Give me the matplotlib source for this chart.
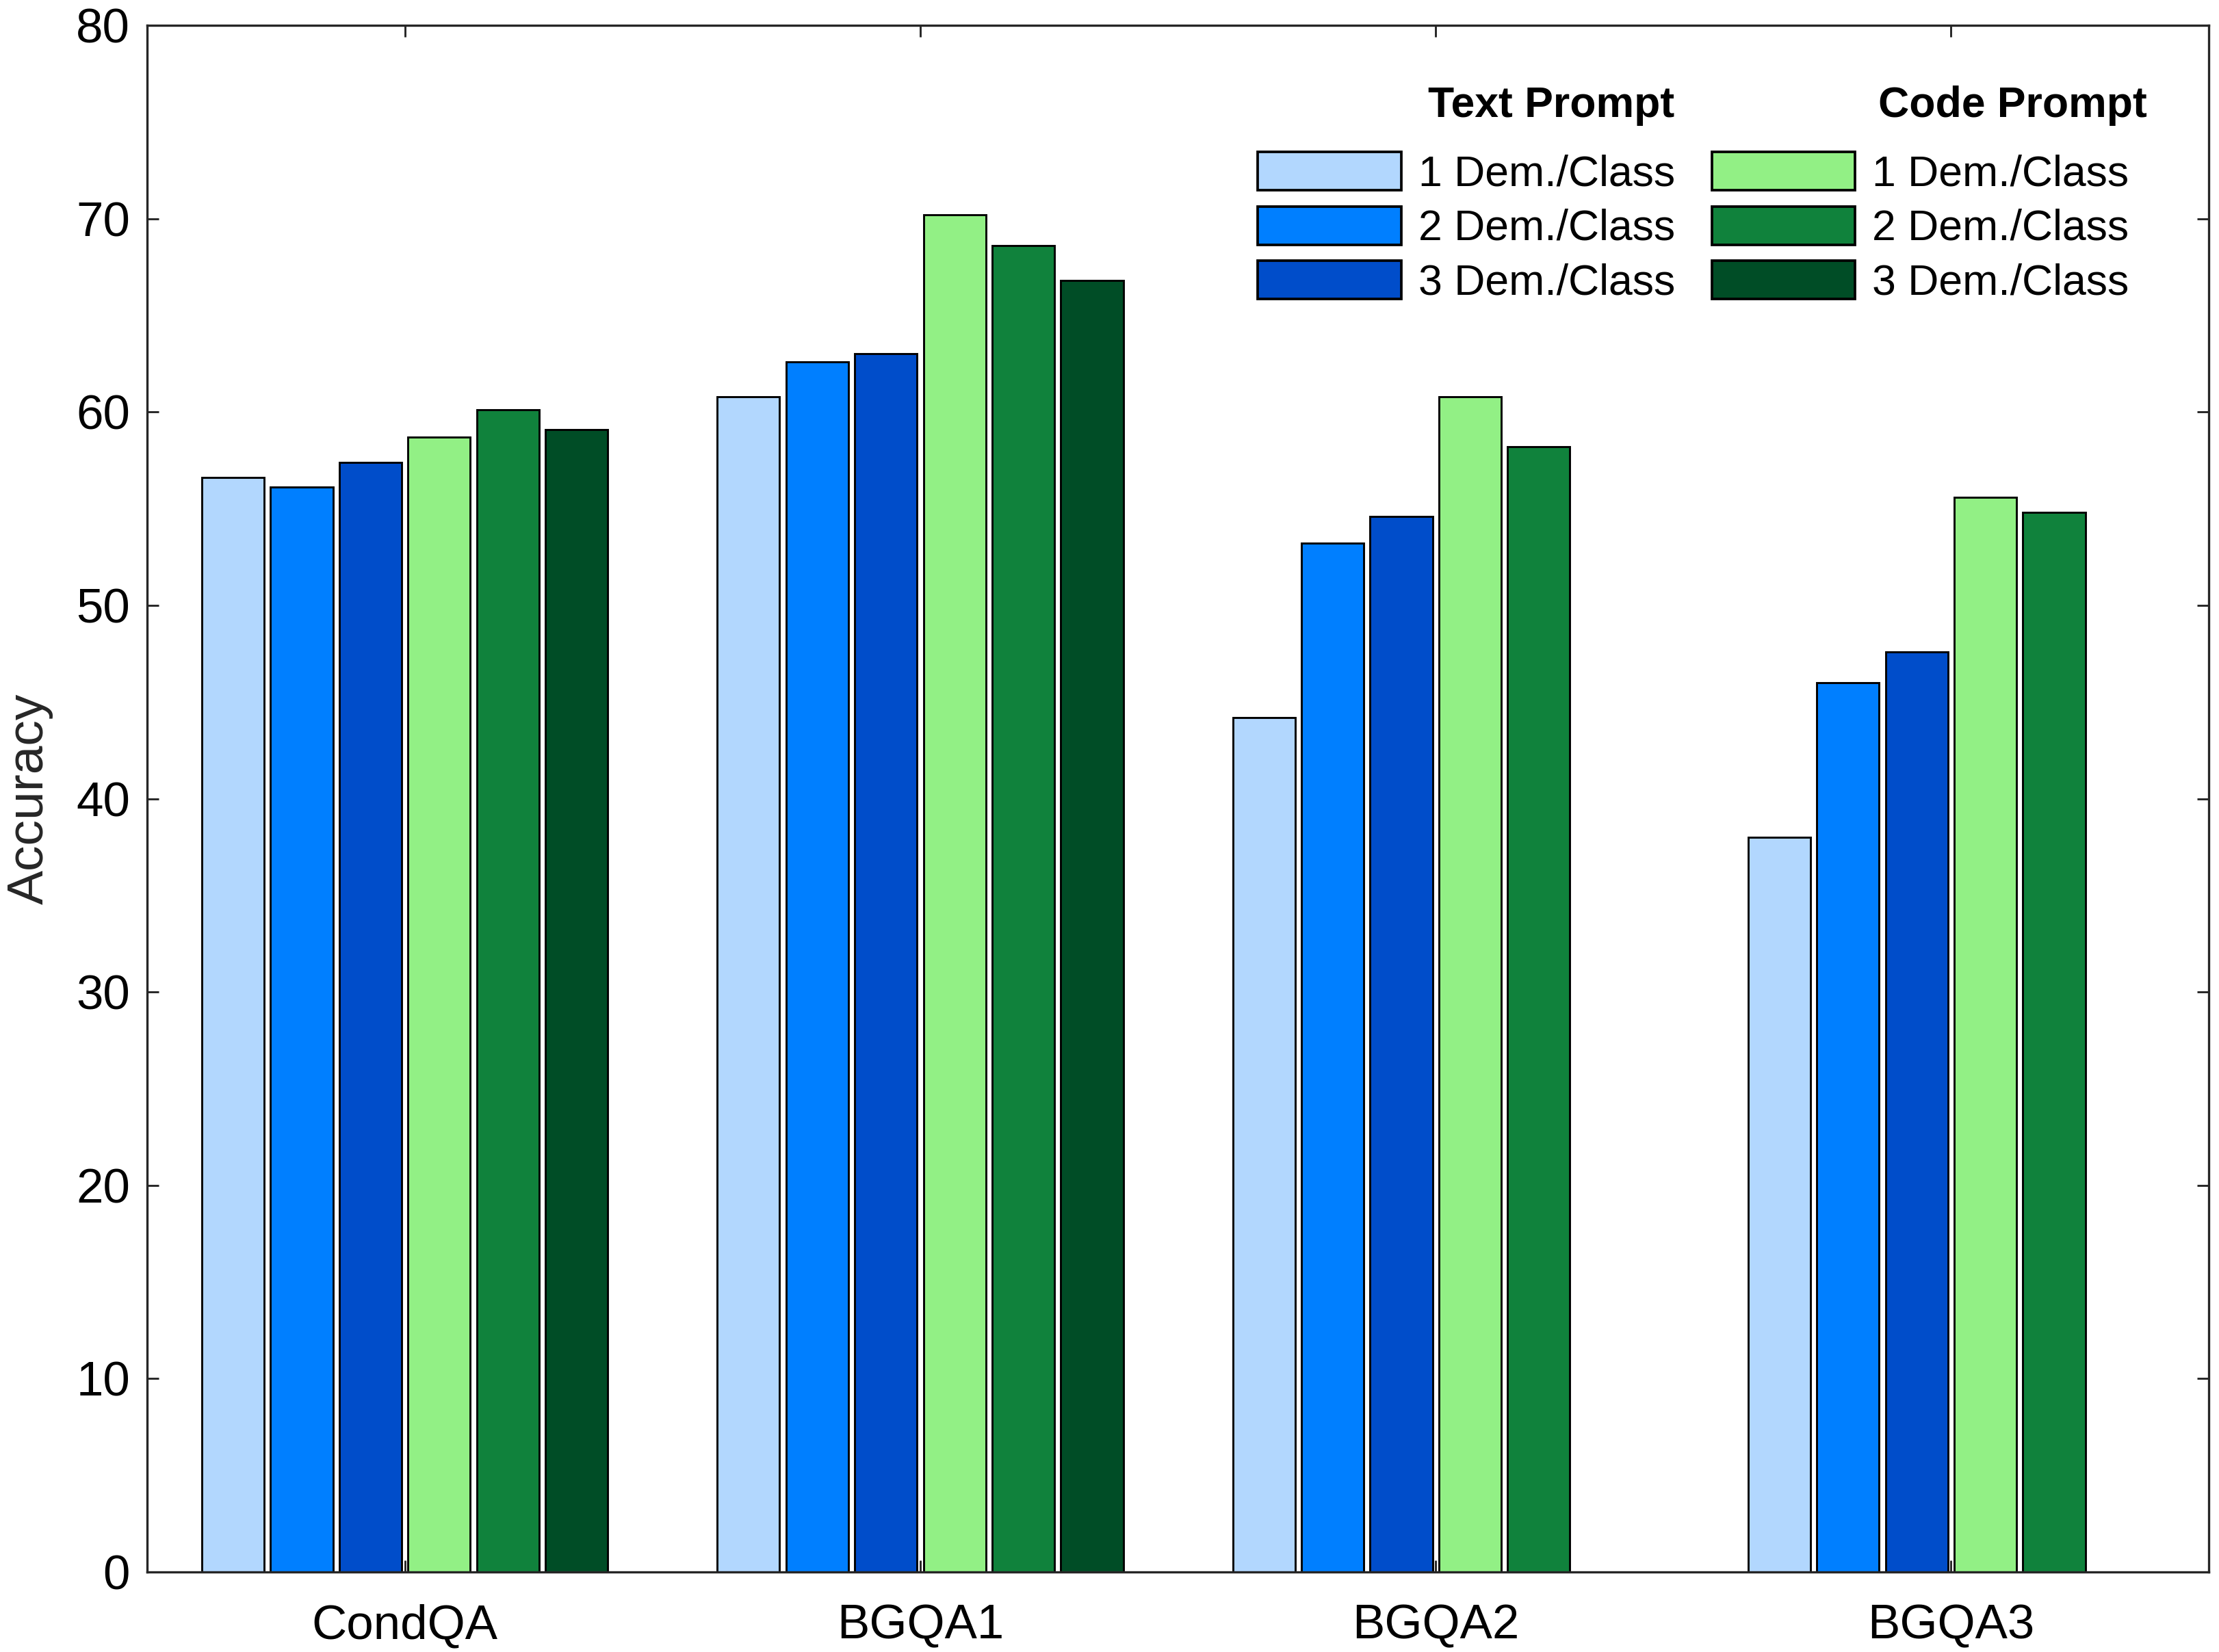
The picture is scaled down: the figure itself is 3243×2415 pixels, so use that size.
import numpy as np
import matplotlib
matplotlib.use("Agg")
import matplotlib.pyplot as plt
from matplotlib.patches import Patch

plt.rcParams['font.family'] = ['Liberation Sans', 'DejaVu Sans']

datasets = ["CondQA", "BGQA1", "BGQA2", "BGQA3"]
series_labels = ["1 Dem./Class", "2 Dem./Class", "3 Dem./Class",
                 "1 Dem./Class", "2 Dem./Class", "3 Dem./Class"]
text_1 = [56.6, 60.8, 44.2, 38.0]
text_2 = [56.1, 62.6, 53.2, 46.0]
text_3 = [57.4, 63.0, 54.6, 47.6]
code_1 = [58.7, 70.2, 60.8, 55.6]
code_2 = [60.1, 68.6, 58.2, 54.8]
code_3 = [59.1, 66.8, np.nan, np.nan]
series = [text_1, text_2, text_3, code_1, code_2, code_3]
colors = ['#B2D7FE', '#007FFF', '#004DCA', '#92F085', '#10823C', '#004D26']

fig = plt.figure(figsize=(3243/300, 2415/300), dpi=300)
ax = fig.add_axes([0.0663, 0.0484, 0.9291, 0.9363])

x = np.arange(1, len(datasets) + 1)
pitch = 0.1333
width = 0.121
handles = []
for i, (vals, c) in enumerate(zip(series, colors)):
    v = np.array(vals, dtype=float)
    m = ~np.isnan(v)
    ax.bar(x[m] + (i - 2.5) * pitch, v[m], width=width, color=c,
           edgecolor='black', linewidth=0.7, zorder=2)
    handles.append(Patch(facecolor=c, edgecolor='black', linewidth=0.9))

ax.set_xlim(0.5, 4.5)
ax.set_ylim(0, 80)
ax.set_yticks(np.arange(0, 81, 10))
ax.set_xticks(x)
ax.set_xticklabels(datasets)
ax.tick_params(axis='both', direction='in', length=4, width=0.7,
               top=True, right=True, labelsize=17, colors='#262626',
               labelcolor='black', pad=6)
ax.tick_params(axis='x', pad=11)
for s in ax.spines.values():
    s.set_linewidth(0.8)
    s.set_color('#262626')
ax.set_ylabel("Accuracy", fontsize=18, color='#262626', labelpad=8)

leg_kw = dict(frameon=False, fontsize=15, handlelength=3.35, handleheight=1.0,
              handletextpad=0.4, labelspacing=0.27, borderpad=0,
              borderaxespad=0, loc='upper left')
leg1 = ax.legend(handles[:3], series_labels[:3],
                 bbox_to_anchor=(0.5388, 0.918), **leg_kw)
ax.add_artist(leg1)
leg2 = ax.legend(handles[3:], series_labels[3:],
                 bbox_to_anchor=(0.759, 0.918), **leg_kw)
ax.text(0.681, 0.948, "Text Prompt", transform=ax.transAxes, fontsize=15,
        fontweight='bold', ha='center', va='center')
ax.text(0.905, 0.948, "Code Prompt", transform=ax.transAxes, fontsize=15,
        fontweight='bold', ha='center', va='center')

fig.savefig("out.png", dpi=300)
